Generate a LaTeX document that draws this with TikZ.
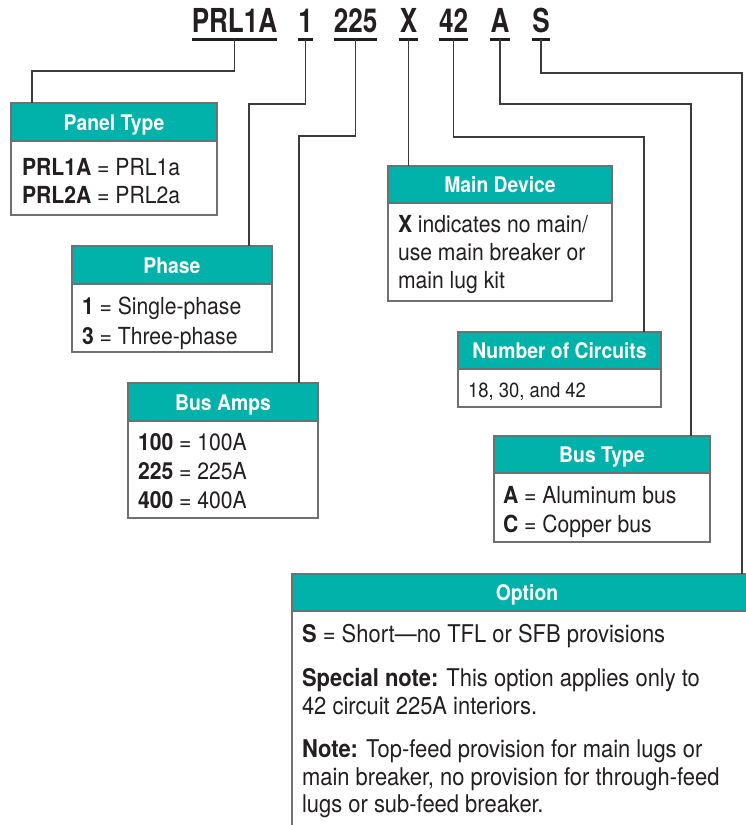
\documentclass[tikz,border=0pt]{standalone}
\usepackage{fontspec}
\setmainfont{TeX Gyre Heros}[FakeStretch=0.9]
\newfontfamily\codefam{TeX Gyre Heros}[FakeStretch=0.79]
\definecolor{hdrteal}{RGB}{0,178,169}
\definecolor{boxgray}{RGB}{112,112,115}
\definecolor{lineclr}{RGB}{60,60,62}
\definecolor{inkclr}{RGB}{35,31,32}
\newcommand\bodyfnt{\fontsize{23.5}{29}\selectfont}
\newcommand\optfnt{\fontsize{24.4}{29}\selectfont}
\newcommand\smallbodyfnt{\fontsize{20.5}{26}\selectfont}
\newcommand\hdrfnt{\fontsize{21.5}{24}\selectfont\bfseries}
\newcommand\codefnt{\codefam\fontsize{33}{36}\selectfont\bfseries}
\begin{document}
\begin{tikzpicture}[x=1pt,y=-1pt,
  hdr/.style={draw=boxgray, fill=hdrteal, line width=1.3pt, text=white, font=\hdrfnt,
    inner sep=0pt, outer sep=0pt, anchor=north west, text height=16pt, text depth=0pt,
    minimum height=38pt},
  bodybox/.style={draw=boxgray, fill=white, line width=1.3pt, inner sep=0pt, outer sep=0pt,
    anchor=north west},
  bodytxt/.style={anchor=base west, inner sep=0pt, outer sep=0pt, font=\bodyfnt, text=inkclr},
  conn/.style={draw=lineclr, line width=1.5pt},
  code/.style={font=\codefnt, text=inkclr, inner sep=0pt, outer sep=0pt, anchor=base},
  ul/.style={draw=inkclr, line width=3pt}
]
\useasboundingbox (0,0) rectangle (746,825);
\clip (0,0) rectangle (746,825);
\fill[white] (0,0) rectangle (746,825);

% ---- code line ----
\node[code, minimum width=85pt] (cPRL) at (234.5,32) {PRL1A};
\node[code, minimum width=15pt] (cOne) at (305.5,32) {1};
\node[code, minimum width=43pt] (cAmp) at (355.5,32) {225};
\node[code, minimum width=19pt] (cX) at (408.5,32) {X};
\node[code, minimum width=29pt] (cCir) at (453.5,32) {42};
\node[code, minimum width=20pt] (cA) at (500,32) {A};
\node[code, minimum width=18pt] (cS) at (541,32) {S};
\foreach \n in {cPRL,cOne,cAmp,cX,cCir,cA,cS}{
  \draw[ul] ([yshift=-7pt]\n.base west) -- ([yshift=-7pt]\n.base east);
  \coordinate (u\n) at ([yshift=-7pt]\n.base);
}

% ---- Panel Type ----
\node[hdr, minimum width=206pt] (panelH) at (11,103) {Panel Type};
\node[bodybox, minimum width=206pt, minimum height=74pt] (panelB) at (panelH.south west) {};
\node[bodytxt] (panelT) at ([xshift=11pt,yshift=-34pt]panelB.north west)
  {\vtop{\baselineskip=28pt\hbox{\textbf{PRL1A} = PRL1a}\hbox{\textbf{PRL2A} = PRL2a}}};

% ---- Phase ----
\node[hdr, minimum width=200pt] (phaseH) at (72,246) {Phase};
\node[bodybox, minimum width=200pt, minimum height=68pt] (phaseB) at (phaseH.south west) {};
\node[bodytxt] (phaseT) at ([xshift=10pt,yshift=-30pt]phaseB.north west)
  {\vtop{\baselineskip=30pt\hbox{\textbf{1} = Single-phase}\hbox{\textbf{3} = Three-phase}}};

% ---- Bus Amps ----
\node[hdr, minimum width=190pt] (ampsH) at (128,383) {Bus Amps};
\node[bodybox, minimum width=190pt, minimum height=97pt] (ampsB) at (ampsH.south west) {};
\node[bodytxt] (ampsT) at ([xshift=10pt,yshift=-29pt]ampsB.north west)
  {\vtop{\baselineskip=29pt\hbox{\textbf{100} = 100A}\hbox{\textbf{225} = 225A}\hbox{\textbf{400} = 400A}}};

% ---- Main Device ----
\node[hdr, minimum width=224pt, minimum height=37pt] (mainH) at (388,166) {Main Device};
\node[bodybox, minimum width=224pt, minimum height=98pt] (mainB) at (mainH.south west) {};
\node[bodytxt] (mainT) at ([xshift=10pt,yshift=-29pt]mainB.north west)
  {\vtop{\baselineskip=28pt\hbox{\textbf{X} indicates no main/}\hbox{use main breaker or}\hbox{main lug kit}}};

% ---- Number of Circuits ----
\node[hdr, minimum width=203pt, minimum height=37pt] (circH) at (458,332) {Number of Circuits};
\node[bodybox, minimum width=203pt, minimum height=38pt] (circB) at (circH.south west) {};
\node[bodytxt, font=\smallbodyfnt] (circT) at ([xshift=10pt,yshift=-28pt]circB.north west)
  {18, 30, and 42};

% ---- Bus Type ----
\node[hdr, minimum width=216pt, minimum height=37pt] (typeH) at (494,436) {Bus Type};
\node[bodybox, minimum width=216pt, minimum height=69pt] (typeB) at (typeH.south west) {};
\node[bodytxt] (typeT) at ([xshift=9pt,yshift=-30pt]typeB.north west)
  {\vtop{\baselineskip=29pt\hbox{\textbf{A} = Aluminum bus}\hbox{\textbf{C} = Copper bus}}};

% ---- Option ----
\node[hdr, minimum width=470pt, minimum height=37pt, text width=454pt, align=center] (optH) at (292,574) {Option};
\node[bodybox, minimum width=470pt, minimum height=240pt] (optB) at (optH.south west) {};
\node[bodytxt, font=\optfnt] (optT) at ([xshift=10pt,yshift=-31pt]optB.north west)
  {\vtop{\baselineskip=27.5pt
    \hbox{\textbf{S} = Short—no TFL or SFB provisions}\vskip17pt
    \hbox{\textbf{Special note:} This option applies only to}
    \hbox{42 circuit 225A interiors.}\vskip16pt
    \hbox{\textbf{Note:} Top-feed provision for main lugs or}
    \hbox{main breaker, no provision for through-feed}
    \hbox{lugs or sub-feed breaker.}}};

% ---- connectors ----
\draw[conn] (ucPRL) -- ++(0,32) -| ([xshift=21pt]panelH.north west);
\draw[conn] (ucOne) -- ++(0,65) -| ([xshift=177pt]phaseH.north west);
\draw[conn] (ucAmp) -- ++(0,97) -| ([xshift=171pt]ampsH.north west);
\draw[conn] (ucX) -- (ucX |- mainH.north);
\draw[conn] (ucCir) -- ++(0,98) -| ([xshift=186pt]circH.north west);
\draw[conn] (ucA) -- ++(0,65) -| ([xshift=197pt]typeH.north west);
\draw[conn] (ucS) -- ++(0,34) -| ([xshift=450pt]optH.north west);
\end{tikzpicture}
\end{document}
